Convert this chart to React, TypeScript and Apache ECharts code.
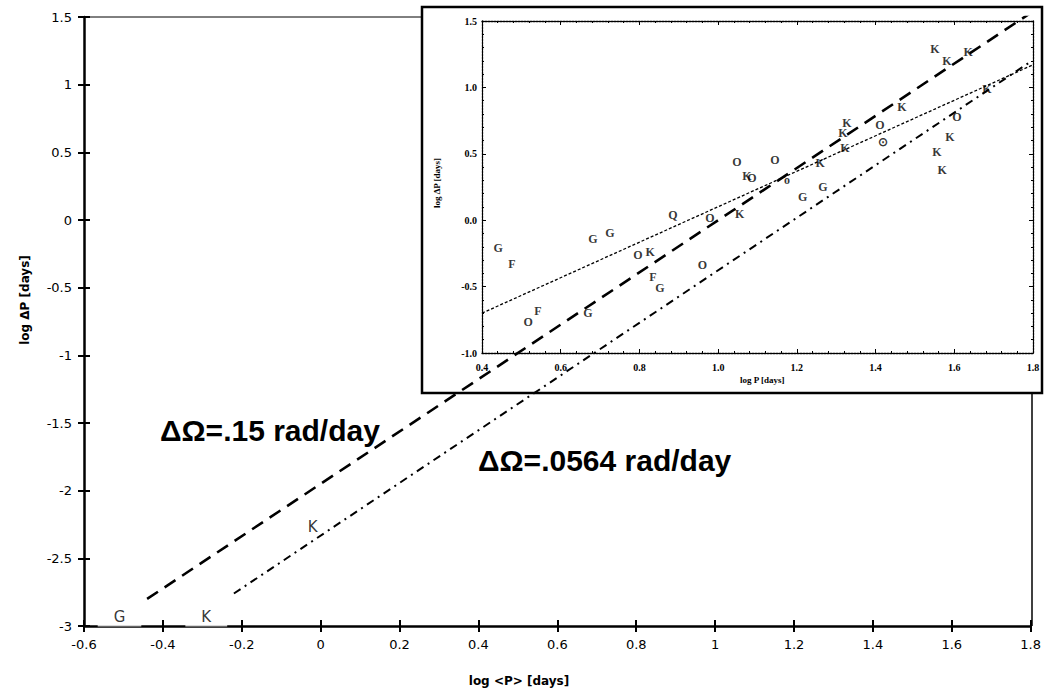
import React, { useEffect, useRef } from "react";
import * as echarts from "echarts";

// ---- axis ranges / ticks ----
const mainX = { min: -0.6, max: 1.8, interval: 0.2 };
const mainY = { min: -3, max: 1.5, interval: 0.5 };
const insetX = { min: 0.4, max: 1.8, interval: 0.2 };
const insetY = { min: -1.0, max: 1.5, interval: 0.5 };

// ---- lines (log<P>, log dP) ----
const line015: [number, number][] = [[-0.44, -2.8], [1.8, 1.53]];
const line0564: [number, number][] = [[-0.22, -2.76], [1.8, 1.17]];
const insetFit: [number, number][] = [[0.4, -0.7], [1.8, 1.17]];

// ---- main-panel star letters ----
const mainLabels = ["G", "K", "K"];
const mainPX = [-0.51, -0.29, -0.02];
const mainPY = [-2.93, -2.93, -2.27];

// ---- inset star letters ----
const insetLabels = ["G", "F", "G", "G", "Q", "O", "O", "K", "F", "G", "O", "O", "F", "G", "K", "O", "O", "K", "O", "o", "K", "G", "G", "K", "K", "K", "O", "⊙", "K", "K", "K", "K", "K", "O", "K", "K", "K"];
const insetPX = [0.441, 0.476, 0.682, 0.725, 0.885, 0.979, 0.796, 0.827, 0.834, 0.852, 0.96, 0.517, 0.542, 0.669, 1.055, 1.048, 1.144, 1.073, 1.086, 1.175, 1.259, 1.215, 1.266, 1.322, 1.317, 1.327, 1.411, 1.419, 1.467, 1.551, 1.581, 1.635, 1.683, 1.607, 1.589, 1.556, 1.569];
const insetPY = [-0.21, -0.33, -0.144, -0.1, 0.04, 0.02, -0.265, -0.24, -0.43, -0.51, -0.34, -0.77, -0.68, -0.7, 0.05, 0.44, 0.455, 0.33, 0.32, 0.3, 0.43, 0.175, 0.25, 0.545, 0.66, 0.735, 0.72, 0.59, 0.856, 1.29, 1.2, 1.27, 0.985, 0.78, 0.63, 0.515, 0.38];

const fmtMain = (v: number) => String(Math.round(v * 10) / 10);
const fmtInset = (v: number) => (Math.round(v * 10) / 10).toFixed(1);

export default function App() {
  const ref = useRef<HTMLDivElement>(null);
  useEffect(() => {
    document.body.style.margin = "0";
    const chart = echarts.init(ref.current!, undefined, { renderer: "svg" });
    const sans = "DejaVu Sans";
    const serif = "Liberation Serif";
    const ink = "#000000";
    const mainTickLabel = { color: ink, fontFamily: sans, fontSize: 13 };
    const insetTickLabel = { color: ink, fontFamily: serif, fontSize: 10, fontWeight: "bold" };

    const mainTick = (inside: boolean) => ({ show: true, inside, length: 6, lineStyle: { color: ink, width: 2 } });
    const mkInsetTick = () => ({ show: true, inside: true, length: 4, lineStyle: { color: ink, width: 1 } });
    const mkInsetLine = () => ({ show: true, onZero: false, lineStyle: { color: ink, width: 1.3, type: [2, 1] } });
    const mkInsetMinor = () => ({ show: true, splitNumber: 5, length: 2, lineStyle: { color: ink, width: 1 } });

    const option: any = {
      animation: false,
      grid: [
        { left: 84, top: 17, width: 948, height: 609 },
        { left: 482, top: 21, width: 551, height: 332 },
      ],
      xAxis: [
        {
          type: "value", gridIndex: 0, min: mainX.min, max: mainX.max, interval: mainX.interval,
          splitLine: { show: false },
          axisLine: { show: true, onZero: false, lineStyle: { color: ink, width: 2.5 } },
          axisTick: mainTick(false),
          axisLabel: { ...mainTickLabel, margin: 12, formatter: fmtMain },
        },
        {
          type: "value", gridIndex: 0, min: mainX.min, max: mainX.max, interval: mainX.interval,
          position: "bottom",
          splitLine: { show: false },
          axisLine: { show: false, onZero: false },
          axisTick: mainTick(true),
          axisLabel: { show: false },
        },
        {
          type: "value", gridIndex: 1, min: insetX.min, max: insetX.max, interval: insetX.interval,
          position: "bottom",
          splitLine: { show: false },
          axisLine: mkInsetLine(),
          axisTick: mkInsetTick(),
          minorTick: mkInsetMinor(),
          axisLabel: { ...insetTickLabel, margin: 9, formatter: fmtInset },
        },
        {
          type: "value", gridIndex: 1, min: insetX.min, max: insetX.max, interval: insetX.interval,
          position: "top",
          splitLine: { show: false },
          axisLine: mkInsetLine(),
          axisTick: mkInsetTick(),
          minorTick: mkInsetMinor(),
          axisLabel: { show: false },
        },
      ],
      yAxis: [
        {
          type: "value", gridIndex: 0, min: mainY.min, max: mainY.max, interval: mainY.interval,
          splitLine: { show: false },
          axisLine: { show: true, onZero: false, lineStyle: { color: ink, width: 2.5 } },
          axisTick: mainTick(false),
          axisLabel: { ...mainTickLabel, margin: 12, formatter: fmtMain },
        },
        {
          type: "value", gridIndex: 0, min: mainY.min, max: mainY.max, interval: mainY.interval,
          position: "left",
          splitLine: { show: false },
          axisLine: { show: false, onZero: false },
          axisTick: mainTick(true),
          axisLabel: { show: false },
        },
        {
          type: "value", gridIndex: 1, min: insetY.min, max: insetY.max, interval: insetY.interval,
          position: "left",
          splitLine: { show: false },
          axisLine: mkInsetLine(),
          axisTick: mkInsetTick(),
          minorTick: mkInsetMinor(),
          axisLabel: { ...insetTickLabel, margin: 5, formatter: fmtInset },
        },
        {
          type: "value", gridIndex: 1, min: insetY.min, max: insetY.max, interval: insetY.interval,
          position: "right",
          splitLine: { show: false },
          axisLine: mkInsetLine(),
          axisTick: mkInsetTick(),
          minorTick: mkInsetMinor(),
          axisLabel: { show: false },
        },
      ],
      series: [
        {
          type: "line", xAxisIndex: 0, yAxisIndex: 0, data: line015, symbol: "none",
          lineStyle: { color: ink, width: 2.6, type: [13, 8] },
        },
        {
          type: "line", xAxisIndex: 0, yAxisIndex: 0, data: line0564, symbol: "none",
          lineStyle: { color: ink, width: 2, type: [8, 5, 2, 5] },
        },
        {
          type: "scatter", xAxisIndex: 0, yAxisIndex: 0, symbolSize: 1,
          itemStyle: { color: "rgba(0,0,0,0)" },
          data: mainLabels.map((n, i) => ({ name: n, value: [mainPX[i], mainPY[i]] })),
          label: {
            show: true, position: "inside", formatter: "{b}", color: ink,
            fontFamily: sans, fontSize: 15, backgroundColor: "#fff", padding: [0, 16, 5, 16],
          },
        },
        {
          type: "line", xAxisIndex: 2, yAxisIndex: 2, data: insetFit, symbol: "none",
          lineStyle: { color: ink, width: 1.3, type: [3, 2] },
        },
        {
          type: "scatter", xAxisIndex: 2, yAxisIndex: 2, symbolSize: 1,
          itemStyle: { color: "rgba(0,0,0,0)" },
          data: insetLabels.map((n, i) => ({ name: n, value: [insetPX[i], insetPY[i]] })),
          label: {
            show: true, position: "inside", formatter: "{b}", color: ink,
            fontFamily: serif, fontWeight: "bold", fontSize: 12,
          },
        },
      ],
      graphic: [
        {
          type: "rect", z: 4,
          shape: { x: 422, y: 7, width: 620, height: 386 },
          style: { fill: "none", stroke: ink, lineWidth: 2.5 },
        },
        { type: "line", z: 4, shape: { x1: 84, y1: 17, x2: 422, y2: 17 }, style: { stroke: ink, lineWidth: 1 } },
        { type: "line", z: 4, shape: { x1: 1032, y1: 393, x2: 1032, y2: 626 }, style: { stroke: ink, lineWidth: 1.5 } },
        {
          type: "text", x: 519, y: 681,
          style: { text: "log <P> [days]", fill: ink, font: "bold 12px 'DejaVu Sans'", textAlign: "center", textVerticalAlign: "middle" },
        },
        {
          type: "text", x: 25, y: 300, rotation: Math.PI / 2,
          style: { text: "log ΔP [days]", fill: ink, font: "bold 12px 'DejaVu Sans'", textAlign: "center", textVerticalAlign: "middle" },
        },
        {
          type: "text", x: 160, y: 430,
          style: { text: "ΔΩ=.15 rad/day", fill: ink, font: "bold 30px 'Liberation Sans'", textAlign: "left", textVerticalAlign: "middle" },
        },
        {
          type: "text", x: 478, y: 460,
          style: { text: "ΔΩ=.0564 rad/day", fill: ink, font: "bold 30px 'Liberation Sans'", textAlign: "left", textVerticalAlign: "middle" },
        },
        {
          type: "text", z: 9, x: 740, y: 380,
          style: { text: "log P [days]", fill: ink, font: "bold 9px 'Liberation Serif'", textAlign: "left", textVerticalAlign: "middle" },
        },
        {
          type: "text", z: 9, x: 437, y: 183, rotation: Math.PI / 2,
          style: { text: "log ΔP [days]", fill: ink, font: "bold 9px 'Liberation Serif'", textAlign: "center", textVerticalAlign: "middle" },
        },
      ],
    };
    chart.setOption(option);
    return () => chart.dispose();
  }, []);
  return <div ref={ref} style={{ width: 1044, height: 694 }} />;
}
